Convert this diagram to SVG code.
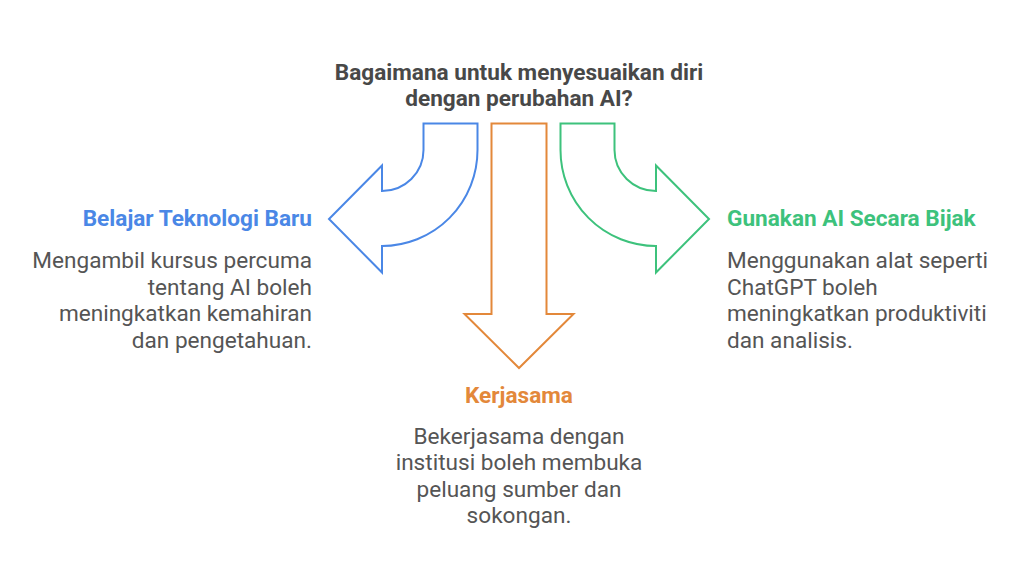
<svg xmlns="http://www.w3.org/2000/svg" width="1024" height="588" viewBox="0 0 1024 588">
<style>
  text { font-family: Roboto, "Liberation Sans", sans-serif; }
  .title { font-size: 22.6px; font-weight: bold; fill: #484848; text-anchor: middle; }
  .head { font-size: 22.6px; font-weight: bold; }
  .body { font-size: 22.6px; fill: #555555; }
  .arrow { fill: none; stroke-width: 2; stroke-linejoin: miter; }
</style>
<rect width="1024" height="588" fill="#ffffff"/>
<g id="title">
  <text class="title" x="519" y="80">Bagaimana untuk menyesuaikan diri</text>
  <text class="title" x="519" y="106">dengan perubahan AI?</text>
</g>
<g id="connectors">
  <path id="arrow-blue" class="arrow" stroke="#4a87e6" d="M 423.5 123.5 H 477.5 V 150 A 95.5 96 0 0 1 382 246 V 272.5 L 329 219 L 382 165.5 V 191 A 41.5 41 0 0 0 423.5 150 Z"/>
  <path id="arrow-orange" class="arrow" stroke="#e3883a" d="M 491.5 123.5 H 546.5 V 314 H 573.5 L 519 368 L 464.5 314 H 491.5 Z"/>
  <path id="arrow-green" class="arrow" stroke="#3dc27c" d="M 614.5 123.5 H 560.5 V 150 A 95.5 96 0 0 0 656 246 V 272.5 L 709 219 L 656 165.5 V 191 A 41.5 41 0 0 1 614.5 150 Z"/>
</g>
<g id="node-belajar" text-anchor="end">
  <text class="head" x="312" y="226" fill="#4a87e6">Belajar Teknologi Baru</text>
  <text class="body" x="312" y="268">Mengambil kursus percuma</text>
  <text class="body" x="312" y="295">tentang AI boleh</text>
  <text class="body" x="312" y="321">meningkatkan kemahiran</text>
  <text class="body" x="312" y="348">dan pengetahuan.</text>
</g>
<g id="node-kerjasama" text-anchor="middle">
  <text class="head" x="519" y="403" fill="#e3883a">Kerjasama</text>
  <text class="body" x="519" y="444">Bekerjasama dengan</text>
  <text class="body" x="519" y="470">institusi boleh membuka</text>
  <text class="body" x="519" y="497">peluang sumber dan</text>
  <text class="body" x="519" y="523">sokongan.</text>
</g>
<g id="node-gunakan" text-anchor="start">
  <text class="head" x="727" y="226" fill="#3dc27c">Gunakan AI Secara Bijak</text>
  <text class="body" x="727" y="268">Menggunakan alat seperti</text>
  <text class="body" x="727" y="295">ChatGPT boleh</text>
  <text class="body" x="727" y="321">meningkatkan produktiviti</text>
  <text class="body" x="727" y="348">dan analisis.</text>
</g>
</svg>
